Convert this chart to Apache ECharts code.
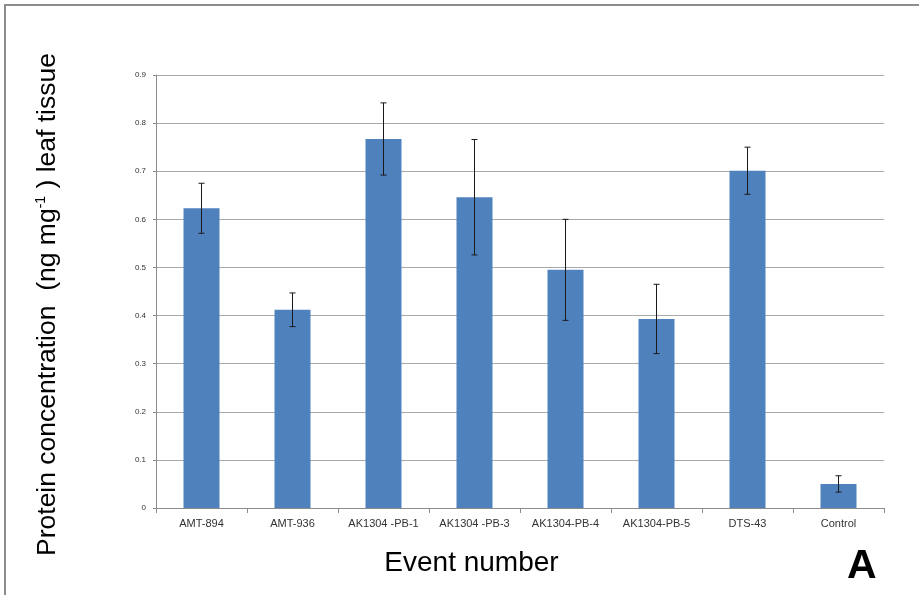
<!DOCTYPE html>
<html>
<head>
<meta charset="utf-8">
<script src="https://cdn.jsdelivr.net/npm/echarts@6/dist/echarts.min.js"></script>
<style>
  html, body { margin: 0; padding: 0; background: #fff; }
  #chart { width: 919px; height: 595px; }
</style>
</head>
<body>
<div id="chart"></div>
<script>
// Protein concentration per transgenic event (mean with error)
const categories = ['AMT-894', 'AMT-936', 'AK1304 -PB-1', 'AK1304 -PB-3', 'AK1304-PB-4', 'AK1304-PB-5', 'DTS-43', 'Control'];
const means = [0.623, 0.412, 0.767, 0.646, 0.495, 0.393, 0.701, 0.050];
const errors = [0.052, 0.035, 0.075, 0.120, 0.105, 0.072, 0.049, 0.017];
const yTicks = [0, 0.1, 0.2, 0.3, 0.4, 0.5, 0.6, 0.7, 0.8, 0.9];

const errorData = categories.map((c, i) => [i, means[i] - errors[i], means[i] + errors[i]]);

const FONT = 'Liberation Sans, Arial, sans-serif';

const chart = echarts.init(document.getElementById('chart'));
chart.setOption({
  animation: false,
  backgroundColor: '#ffffff',
  textStyle: { fontFamily: FONT },
  grid: { left: 156, right: 35, top: 75, bottom: 87 },
  graphic: [
    {
      type: 'polyline',
      shape: { points: [[5, 595], [5, 5], [919, 5]] },
      style: { stroke: '#8c8c8c', lineWidth: 2, fill: null }
    },
    {
      type: 'text',
      left: 847, top: 546,
      style: { text: 'A', fontSize: 41, fontWeight: 'bold', fill: '#000', fontFamily: FONT }
    }
  ],
  xAxis: {
    type: 'category',
    data: categories,
    name: 'Event number',
    nameLocation: 'middle',
    nameGap: 41,
    nameTextStyle: { fontSize: 28, color: '#000', padding: [0, 97, 0, 0] },
    axisLine: { lineStyle: { color: '#8c8c8c', width: 1 } },
    axisTick: { show: true, length: 5, lineStyle: { color: '#8c8c8c' } },
    axisLabel: { fontSize: 11, color: '#333', margin: 10, interval: 0 }
  },
  yAxis: {
    type: 'value',
    min: 0, max: 0.9, interval: 0.1,
    name: '{a|Protein concentration  (ng mg}{s|-1}{a| ) leaf tissue}',
    nameLocation: 'middle',
    nameRotate: 90,
    nameGap: 95,
    nameTextStyle: {
      padding: [0, 26, 0, 0],
      rich: {
        a: { fontSize: 26.5, color: '#000', fontFamily: FONT },
        s: { fontSize: 14, color: '#000', verticalAlign: 'top', padding: [0, 0, 13, 0], fontFamily: FONT }
      }
    },
    axisLine: { show: true, lineStyle: { color: '#8c8c8c', width: 1 } },
    axisTick: { show: true, length: 3, lineStyle: { color: '#8c8c8c' } },
    axisLabel: {
      fontSize: 8, color: '#333', margin: 10,
      formatter: v => {
        const t = yTicks.find(x => Math.abs(x - v) < 1e-9);
        return t === 0 ? '0' : String(t);
      }
    },
    splitLine: { show: true, lineStyle: { color: '#a8a8a8', width: 1 } }
  },
  series: [
    {
      type: 'bar',
      data: means,
      barWidth: 36,
      itemStyle: { color: '#4f81bd' }
    },
    {
      type: 'custom',
      data: errorData,
      z: 10,
      renderItem: function (params, api) {
        const x = api.value(0);
        const lo = api.coord([x, api.value(1)]);
        const hi = api.coord([x, api.value(2)]);
        const cap = 3;
        const style = { stroke: '#1a1a1a', lineWidth: 1 };
        return {
          type: 'group',
          children: [
            { type: 'line', shape: { x1: hi[0], y1: hi[1], x2: lo[0], y2: lo[1] }, style },
            { type: 'line', shape: { x1: hi[0] - cap, y1: hi[1], x2: hi[0] + cap, y2: hi[1] }, style },
            { type: 'line', shape: { x1: lo[0] - cap, y1: lo[1], x2: lo[0] + cap, y2: lo[1] }, style }
          ]
        };
      }
    }
  ]
});
</script>
</body>
</html>
